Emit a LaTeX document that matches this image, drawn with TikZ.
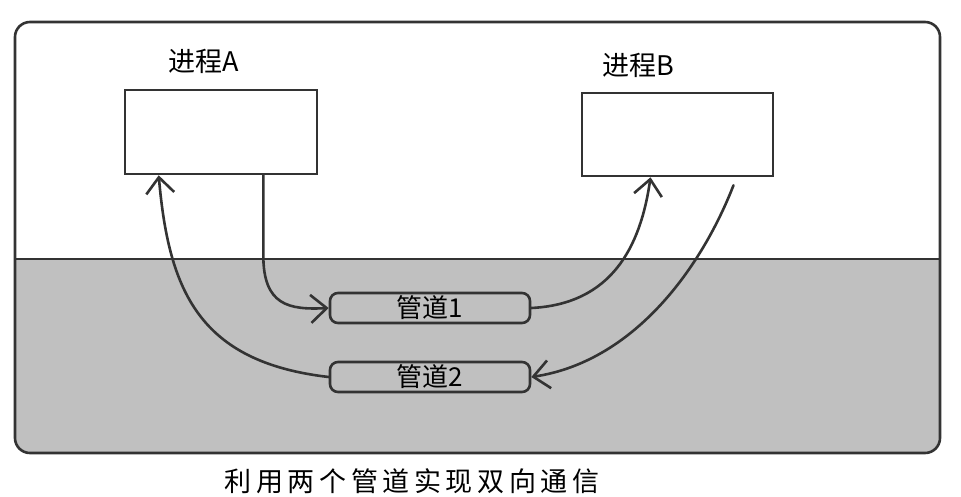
\documentclass[tikz,border=0pt]{standalone}
\usepackage{fontspec}
\setmainfont{Noto Sans CJK SC}
\usetikzlibrary{arrows.meta,calc}
\definecolor{ink}{HTML}{333333}
\definecolor{pipegray}{HTML}{C0C0C0}
\begin{document}
\begin{tikzpicture}[x=1pt,y=-1pt,
  line/.style={draw=ink,line width=2.6pt},
  procbox/.style={line,fill=white,minimum width=192pt,minimum height=84pt,inner sep=0pt},
  pipe/.style={line,fill=pipegray,rounded corners=8pt,minimum width=200pt,minimum height=30pt,inner sep=0pt,font=\fontsize{26pt}{26pt}\selectfont},
  lbl/.style={font=\fontsize{27pt}{27pt}\selectfont,text=black,inner sep=0pt},
  conn/.style={draw=ink,line width=2.6pt,line cap=round,-{Straight Barb[length=16pt,width=28pt,line width=2.6pt]}}]
\useasboundingbox (0,0) rectangle (961,496);
% frame
\fill[pipegray] (15,259) [rounded corners=15pt] -- (15,453) -- (940,453) [sharp corners] -- (940,259) -- cycle;
\draw[line,rounded corners=15pt] (15,22) rectangle (940,453);
\draw[line] (15,259) -- (940,259);
% process boxes
\node[procbox] (A) at (221,132) {};
\node[procbox,minimum width=191pt,minimum height=83pt] (B) at (677.5,134.5) {};
\node[lbl] (la) at (204,61) {进程A};
\node[lbl] (lb) at (638,65) {进程B};
% pipes
\node[pipe] (p1) at (430,308) {管道1\hspace{36pt}};
\node[pipe] (p2) at (430,377) {管道2\hspace{20pt}};
% connectors
\draw[conn] ($(A.south east)+(-55,0)$) -- ($(A.south east)+(-55,80)$) .. controls ($(A.south east)+(-55,130)$) and ($(p1.west)+(-40,2)$) .. (p1.west);
\draw[conn] (p1.east) .. controls ($(p1.east)+(80,-4)$) and ($(B.south)+(-37,70)$) .. ($(B.south)+(-27,0)$);
\draw[conn] ($(B.south)+(56,8)$) .. controls ($(B.south)+(22,95)$) and ($(p2.east)+(100,-15)$) .. (p2.east);
\draw[conn] (p2.west) .. controls ($(p2.west)+(-130,-15)$) and ($(A.south west)+(45,115)$) .. ($(A.south west)+(35,0)$);
% caption
\node[inner sep=0pt,font=\fontsize{27pt}{27pt}\selectfont] (cap) at (412,481) {\makebox[375pt][s]{利\hfill 用\hfill 两\hfill 个\hfill 管\hfill 道\hfill 实\hfill 现\hfill 双\hfill 向\hfill 通\hfill 信}};
\end{tikzpicture}
\end{document}
